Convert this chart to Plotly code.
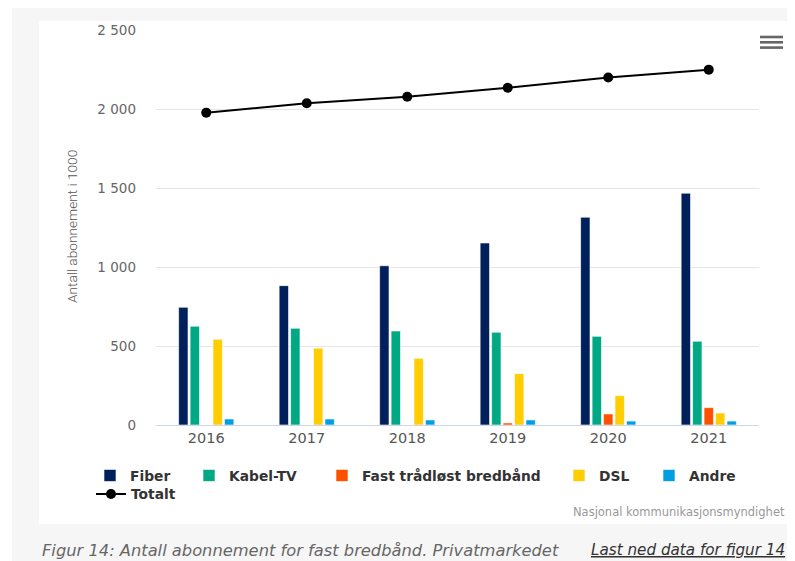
import plotly.graph_objects as go

years = ["2016", "2017", "2018", "2019", "2020", "2021"]
fiber = [745, 882, 1008, 1152, 1315, 1467]
kabel_tv = [625, 612, 595, 587, 561, 530]
fast_tradlost = [None, None, None, 13, 70, 110]
dsl = [543, 486, 422, 325, 186, 76]
andre = [38, 38, 32, 32, 25, 25]
totalt = [1977, 2036, 2078, 2135, 2199, 2249]

series = [
    ("Fiber", fiber, "#00205b"),
    ("Kabel-TV", kabel_tv, "#00a984"),
    ("Fast trådløst bredbånd", fast_tradlost, "#ff5000"),
    ("DSL", dsl, "#ffcd00"),
    ("Andre", andre, "#009fe3"),
]

# the page body has an 8px margin, so the figure starts at (8, 8) in the window
OFF = 8
W, H = 795 - OFF, 561 - OFF
L, R, T, B = 156, 759, 30, 425  # plot area in window pixels
pw, ph = R - L, B - T


def px(x):
    return (x - L) / pw


def py(y):
    return (B - y) / ph


# legend text start (window px) per entry
legend_pos = {
    "Fiber": (130, 475.5),
    "Kabel-TV": (229, 475.5),
    "Fast trådløst bredbånd": (362, 475.5),
    "DSL": (599, 475.5),
    "Andre": (689, 475.5),
    "Totalt": (131, 494),
}
legend_font = dict(family="DejaVu Sans", size=13.8, color="#333333", weight="bold")

fig = go.Figure()
legends = {}
for i, (name, vals, col) in enumerate(series):
    lid = "legend" if i == 0 else f"legend{i + 1}"
    fig.add_trace(go.Bar(
        x=years, y=vals, name=name, showlegend=True,
        marker=dict(color=col, line=dict(color="white", width=0.6)),
        legend=lid,
    ))
    tx, ty = legend_pos[name]
    legends[lid] = dict(orientation="h", x=px(tx - 40), y=py(ty), xanchor="left",
                        yanchor="middle", bgcolor="rgba(0,0,0,0)", font=legend_font,
                        visible=True)

fig.add_trace(go.Scatter(
    x=years, y=totalt, name="Totalt", mode="lines+markers", showlegend=True,
    line=dict(color="#000000", width=2),
    marker=dict(color="#000000", size=10),
    legend="legend6",
))
tx, ty = legend_pos["Totalt"]
legends["legend6"] = dict(orientation="h", x=px(tx - 40), y=py(ty), xanchor="left",
                          yanchor="middle", bgcolor="rgba(0,0,0,0)", font=legend_font,
                          visible=True)

shapes = [
    # page grey background
    dict(type="rect", xref="paper", yref="paper", x0=px(12), x1=px(805),
         y0=py(575), y1=py(7), fillcolor="#f6f6f6", line=dict(width=0), layer="below"),
    # white chart box
    dict(type="rect", xref="paper", yref="paper", x0=px(39), x1=px(805),
         y0=py(524), y1=py(21), fillcolor="#ffffff", line=dict(width=0), layer="below"),
]
# hamburger menu icon
for yy in (37, 42.3, 47.6):
    shapes.append(dict(type="line", xref="paper", yref="paper", x0=px(760), x1=px(783),
                       y0=py(yy), y1=py(yy), line=dict(color="#666666", width=2.6)))

annotations = [
    dict(text="Antall abonnement i 1000", textangle=-90, xref="paper", yref="paper",
         x=px(72), y=py(227), xanchor="center", yanchor="middle", showarrow=False,
         font=dict(family="Roboto", size=13.7, color="#555555", weight=300)),
    dict(text="Nasjonal kommunikasjonsmyndighet", xref="paper", yref="paper",
         x=px(787), y=py(512), xanchor="right", yanchor="middle", showarrow=False,
         font=dict(family="DejaVu Sans", size=11.5, color="#999999")),
    dict(text="<i>Figur 14: Antall abonnement for fast bredbånd. Privatmarkedet</i>",
         xref="paper", yref="paper", x=px(40), y=py(550), xanchor="left", yanchor="middle",
         showarrow=False, font=dict(family="DejaVu Sans", size=16.3, color="#666666", weight=300)),
    dict(text="<i><u>Last ned data for figur 14</u></i>",
         xref="paper", yref="paper", x=px(589), y=py(550), xanchor="left", yanchor="middle",
         showarrow=False, font=dict(family="DejaVu Sans", size=15.2, color="#333333", weight=300)),
]

fig.update_layout(
    width=W, height=H,
    margin=dict(l=L - OFF, r=W - (R - OFF), t=T - OFF, b=H - (B - OFF), pad=0),
    paper_bgcolor="#ffffff",
    plot_bgcolor="rgba(0,0,0,0)",
    showlegend=True,
    barmode="group",
    bargap=0.43,
    bargroupgap=0.18,
    separators=", ",
    font=dict(family="DejaVu Sans", color="#666666"),
    xaxis=dict(
        type="category", showgrid=False, showline=True, linecolor="#ccd6eb", linewidth=1,
        ticks="", tickfont=dict(family="DejaVu Sans", size=14.5, color="#555555"),
        fixedrange=True,
    ),
    yaxis=dict(
        range=[0, 2500], tickvals=[0, 500, 1000, 1500, 2000, 2500], tickformat=",d",
        showgrid=True, gridcolor="#e6e6e6", gridwidth=1, zeroline=False, showline=False,
        ticks="", ticklabelstandoff=19,
        tickfont=dict(family="DejaVu Sans", size=13.5, color="#666666"),
        fixedrange=True,
    ),
    shapes=shapes,
    annotations=annotations,
    **legends,
)

fig.write_html("out.html")
